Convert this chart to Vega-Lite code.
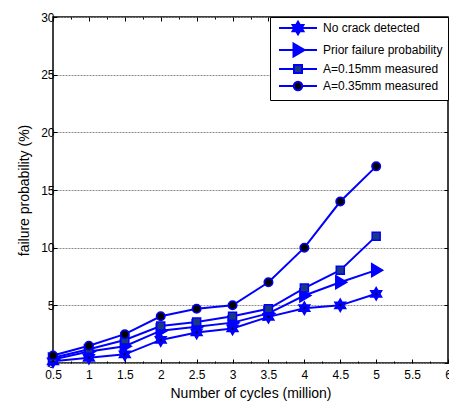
{
  "$schema": "https://vega.github.io/schema/vega-lite/v6.json",
  "width": 395,
  "height": 346,
  "autosize": {"type": "none"},
  "padding": {"left": 53, "top": 17, "right": 1, "bottom": 38},
  "config": {
    "font": "Liberation Sans",
    "view": {"stroke": "black", "strokeWidth": 1.5},
    "axis": {
      "labelFontSize": 12,
      "labelColor": "black",
      "titleFontSize": 14,
      "titleFontWeight": "normal",
      "titleColor": "black",
      "tickColor": "black",
      "tickWidth": 1,
      "domain": false,
      "grid": false
    },
    "legend": {
      "title": null,
      "orient": "top-right",
      "offset": 0,
      "fillColor": "white",
      "strokeColor": "black",
      "padding": 5,
      "rowPadding": 0,
      "labelFontSize": 12,
      "labelColor": "black",
      "symbolSize": 100,
      "symbolStrokeWidth": 2,
      "symbolOffset": 17,
      "labelOffset": 19
    }
  },
  "data": {
    "values": [
      {"x": 0.5, "p": 0.15, "s": "No crack detected"},
      {"x": 1, "p": 0.45, "s": "No crack detected"},
      {"x": 1.5, "p": 0.75, "s": "No crack detected"},
      {"x": 2, "p": 2.0, "s": "No crack detected"},
      {"x": 2.5, "p": 2.65, "s": "No crack detected"},
      {"x": 3, "p": 3.0, "s": "No crack detected"},
      {"x": 3.5, "p": 4.0, "s": "No crack detected"},
      {"x": 4, "p": 4.75, "s": "No crack detected"},
      {"x": 4.5, "p": 5.0, "s": "No crack detected"},
      {"x": 5, "p": 6.0, "s": "No crack detected"},
      {"x": 0.5, "p": 0.3, "s": "Prior failure probability"},
      {"x": 1, "p": 1.0, "s": "Prior failure probability"},
      {"x": 1.5, "p": 1.45, "s": "Prior failure probability"},
      {"x": 2, "p": 2.8, "s": "Prior failure probability"},
      {"x": 2.5, "p": 3.15, "s": "Prior failure probability"},
      {"x": 3, "p": 3.5, "s": "Prior failure probability"},
      {"x": 3.5, "p": 4.3, "s": "Prior failure probability"},
      {"x": 4, "p": 5.85, "s": "Prior failure probability"},
      {"x": 4.5, "p": 7.0, "s": "Prior failure probability"},
      {"x": 5, "p": 8.05, "s": "Prior failure probability"},
      {"x": 0.5, "p": 0.45, "s": "A=0.15mm measured"},
      {"x": 1, "p": 1.2, "s": "A=0.15mm measured"},
      {"x": 1.5, "p": 2.0, "s": "A=0.15mm measured"},
      {"x": 2, "p": 3.2, "s": "A=0.15mm measured"},
      {"x": 2.5, "p": 3.55, "s": "A=0.15mm measured"},
      {"x": 3, "p": 4.05, "s": "A=0.15mm measured"},
      {"x": 3.5, "p": 4.7, "s": "A=0.15mm measured"},
      {"x": 4, "p": 6.5, "s": "A=0.15mm measured"},
      {"x": 4.5, "p": 8.05, "s": "A=0.15mm measured"},
      {"x": 5, "p": 11.0, "s": "A=0.15mm measured"},
      {"x": 0.5, "p": 0.65, "s": "A=0.35mm measured"},
      {"x": 1, "p": 1.5, "s": "A=0.35mm measured"},
      {"x": 1.5, "p": 2.5, "s": "A=0.35mm measured"},
      {"x": 2, "p": 4.05, "s": "A=0.35mm measured"},
      {"x": 2.5, "p": 4.7, "s": "A=0.35mm measured"},
      {"x": 3, "p": 5.0, "s": "A=0.35mm measured"},
      {"x": 3.5, "p": 7.0, "s": "A=0.35mm measured"},
      {"x": 4, "p": 10.0, "s": "A=0.35mm measured"},
      {"x": 4.5, "p": 14.0, "s": "A=0.35mm measured"},
      {"x": 5, "p": 17.05, "s": "A=0.35mm measured"}
    ]
  },
  "layer": [
    {
      "mark": {"type": "line", "color": "#0000ff", "strokeWidth": 2},
      "encoding": {
        "x": {
          "field": "x", "type": "quantitative",
          "scale": {"domain": [0.5, 6], "nice": false, "zero": false},
          "axis": {
            "orient": "bottom",
            "title": "Number of cycles (million)",
            "values": [0.5, 0.75, 1, 1.25, 1.5, 1.75, 2, 2.25, 2.5, 2.75, 3, 3.25, 3.5, 3.75, 4, 4.25, 4.5, 4.75, 5, 5.25, 5.5, 5.75, 6],
            "format": "~g",
            "labelExpr": "(datum.value * 2) % 1 === 0 ? datum.label : ''",
            "tickSize": {"condition": {"test": "(datum.value * 2) % 1 === 0", "value": -4}, "value": -2},
            "labelPadding": 10,
            "labelFlush": false,
            "labelOverlap": false,
            "titlePadding": 4
          }
        },
        "y": {
          "field": "p", "type": "quantitative",
          "scale": {"domain": [0, 30], "nice": false},
          "axis": {
            "orient": "left",
            "title": "failure probability (%)",
            "values": [0, 5, 10, 15, 20, 25, 30],
            "tickSize": -4,
            "labelPadding": 3,
            "grid": true,
            "gridColor": "#8c8c8c",
            "gridDash": [2, 1],
            "gridWidth": 1,
            "titlePadding": 9
          }
        },
        "detail": {"field": "s"}
      }
    },
    {
      "mark": {"type": "point", "filled": true, "stroke": "#0000ff", "strokeWidth": 1.5, "size": 100, "opacity": 1},
      "encoding": {
        "x": {
          "field": "x", "type": "quantitative",
          "axis": {
            "orient": "top",
            "title": null,
            "labels": false,
            "values": [0.5, 0.75, 1, 1.25, 1.5, 1.75, 2, 2.25, 2.5, 2.75, 3, 3.25, 3.5, 3.75, 4, 4.25, 4.5, 4.75, 5, 5.25, 5.5, 5.75, 6],
            "tickSize": {"condition": {"test": "(datum.value * 2) % 1 === 0", "value": -4}, "value": -2}
          }
        },
        "y": {
          "field": "p", "type": "quantitative",
          "axis": {
            "orient": "right",
            "title": null,
            "labels": false,
            "values": [0, 5, 10, 15, 20, 25, 30],
            "tickSize": -4
          }
        },
        "shape": {
          "field": "s", "type": "nominal",
          "scale": {
            "domain": ["No crack detected", "Prior failure probability", "A=0.15mm measured", "A=0.35mm measured"],
            "range": [
              "M0,-1.25L0.361,-0.625L1.083,-0.625L0.722,0L1.083,0.625L0.361,0.625L0,1.25L-0.361,0.625L-1.083,0.625L-0.722,0L-1.083,-0.625L-0.361,-0.625Z",
              "M-0.9,-1.3L1.3,0L-0.9,1.3Z",
              "M-0.8,-0.8H0.8V0.8H-0.8Z",
              "M-0.85,0A0.85,0.85 0 1,0 0.85,0A0.85,0.85 0 1,0 -0.85,0Z"
            ]
          },
          "legend": null
        },
        "fill": {
          "field": "s", "type": "nominal",
          "scale": {
            "domain": ["No crack detected", "Prior failure probability", "A=0.15mm measured", "A=0.35mm measured"],
            "range": ["#0000ff", "#0000ff", "#1a3a80", "#000000"]
          },
          "legend": null
        }
      }
    },
    {
      "transform": [{"filter": "datum.s === 'No crack detected'"}],
      "mark": {"type": "point", "filled": true, "color": "black", "size": 5, "opacity": 1},
      "encoding": {
        "x": {"field": "x", "type": "quantitative", "axis": null},
        "y": {"field": "p", "type": "quantitative", "axis": null}
      }
    },
    {
      "transform": [{"filter": "false"}],
      "mark": {"type": "point", "filled": true, "stroke": "#0000ff", "strokeWidth": 2, "size": 100, "opacity": 1},
      "encoding": {
        "x": {"field": "x", "type": "quantitative", "axis": null},
        "y": {"field": "p", "type": "quantitative", "axis": null},
        "shape": {
          "field": "s", "type": "nominal",
          "scale": {
            "domain": ["No crack detected", "Prior failure probability", "A=0.15mm measured", "A=0.35mm measured"],
            "range": [
              "M-3.8,0H-0.72M0.72,0H3.8M0,-1.25L0.361,-0.625L1.083,-0.625L0.722,0L1.083,0.625L0.361,0.625L0,1.25L-0.361,0.625L-1.083,0.625L-0.722,0L-1.083,-0.625L-0.361,-0.625Z",
              "M-3.8,0H-0.9M1.3,0H3.8M-0.9,-1.3L1.3,0L-0.9,1.3Z",
              "M-3.8,0H-0.8M0.8,0H3.8M-0.8,-0.8H0.8V0.8H-0.8Z",
              "M-3.8,0H-0.85M0.85,0H3.8M-0.85,0A0.85,0.85 0 1,0 0.85,0A0.85,0.85 0 1,0 -0.85,0Z"
            ]
          }
        },
        "fill": {
          "field": "s", "type": "nominal",
          "scale": {
            "domain": ["No crack detected", "Prior failure probability", "A=0.15mm measured", "A=0.35mm measured"],
            "range": ["#0000ff", "#0000ff", "#1a3a80", "#000000"]
          }
        }
      }
    }
  ],
  "resolve": {
    "axis": {"x": "independent", "y": "independent"},
    "scale": {"shape": "independent", "fill": "independent"}
  }
}
